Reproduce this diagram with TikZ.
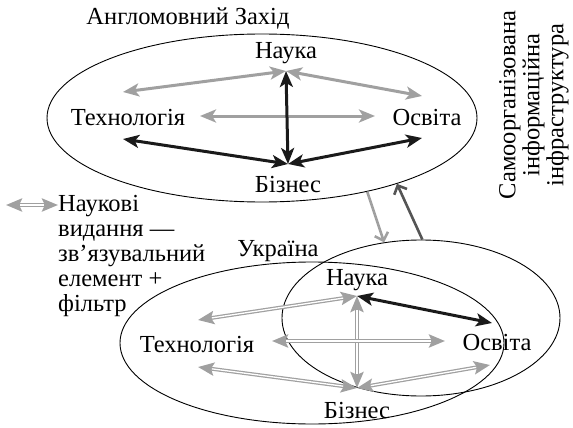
\documentclass[tikz,border=0pt]{standalone}
\usepackage{fontspec}
\setmainfont{Liberation Serif}
\usetikzlibrary{arrows.meta,shapes.geometric,calc}
\definecolor{lg}{HTML}{A0A0A0}
\definecolor{dg}{HTML}{555555}
\definecolor{bk}{HTML}{1A1A1A}
\begin{document}
\begin{tikzpicture}[x=1pt,y=-1pt,
  lbl/.style={font=\fontsize{24.5}{25}\selectfont, inner sep=0pt, anchor=base},
  region/.style={draw, ellipse, line width=0.9pt, inner sep=0pt},
  blk/.style={draw=bk, line width=3pt, {Stealth[length=16pt,width=13pt,inset=4pt]}-{Stealth[length=16pt,width=13pt,inset=4pt]}},
  gry/.style={blk, draw=lg},
  dbl/.style={draw=lg, line width=3.8pt, {Stealth[length=16pt,width=13pt,inset=3pt]}-{Stealth[length=16pt,width=13pt,inset=3pt]},
    postaction={draw=white, line width=1.3pt, arrows=-, shorten <=14pt, shorten >=14pt}},
  link/.style={line width=2.6pt, -{Straight Barb[length=7pt,width=14pt]}},
]
\useasboundingbox (0,0) rectangle (573,428);

% regions
\node[region, minimum width=430pt, minimum height=168pt] (west) at (262,118) {};
\node[region, minimum width=384pt, minimum height=162pt] (ua) at (312,343) {};
\node[region, minimum width=278pt, minimum height=156pt] (uas) at (421,318) {};

% labels
\node[lbl] (title) at (188,25) {Англомовний Захід};
\node[lbl, rotate=90, align=center, anchor=center, font=\fontsize{24.5}{24}\selectfont] (infra) at (534,105) {Самоорганізована\\інформаційна\\інфраструктура};
\node[lbl] (ukr) at (278,256) {Україна};
\node[lbl, anchor=north west, align=left] (leg) at (58,195) {Наукові\\видання —\\зв’язувальний\\елемент +\\фільтр};

% upper nodes
\node[lbl] (nU) at (286,59) {Наука};
\node[lbl] (tU) at (128,125) {Технологія};
\node[lbl] (oU) at (427,125) {Освіта};
\node[lbl] (bU) at (288,192) {Бізнес};

% lower nodes
\node[lbl] (nL) at (357,285) {Наука};
\node[lbl] (tL) at (197,352) {Технологія};
\node[lbl] (oL) at (497,350) {Освіта};
\node[lbl] (bL) at (357,418) {Бізнес};

% ports upper
\coordinate (nUs) at ($(nU.base)+(0,12)$);
\coordinate (bUn) at ($(bU.base)+(0,-28)$);
\coordinate (tUa) at ($(tU.base)+(-5,-33)$);
\coordinate (tUb) at ($(tU.base)+(-5,14)$);
\coordinate (tUe) at ($(tU.base)+(72,-9)$);
\coordinate (oUa) at ($(oU.base)+(-5,-29)$);
\coordinate (oUb) at ($(oU.base)+(-5,13)$);
\coordinate (oUw) at ($(oU.base)+(-52,-9)$);

% ports lower
\coordinate (nLs) at ($(nL.base)+(0,11)$);
\coordinate (bLn) at ($(bL.base)+(0,-30)$);
\coordinate (tLa) at ($(tL.base)+(1,-32)$);
\coordinate (tLe) at ($(tL.base)+(75,-11)$);
\coordinate (tLb) at ($(tL.base)+(1,15)$);
\coordinate (oLw) at ($(oL.base)+(-52,-9)$);
\coordinate (oLb) at ($(oL.base)+(-7,15)$);
\coordinate (oLa) at ($(oL.base)+(-5,-27)$);

% upper arrows
\draw[gry] (tUa) -- (nUs);
\draw[gry] (nUs) -- (oUa);
\draw[gry] (tUe) -- (oUw);
\draw[blk] (nUs) -- (bUn);
\draw[blk] (tUb) -- (bUn);
\draw[blk] (bUn) -- (oUb);

% lower arrows
\draw[dbl] (tLa) -- (nLs);
\draw[dbl] (nLs) -- (bLn);
\draw[dbl] (tLe) -- (oLw);
\draw[dbl] (tLb) -- (bLn);
\draw[dbl] (bLn) -- (oLb);
\draw[blk] (nLs) -- (oLa);

% legend arrow
\coordinate (legL) at (6,205);
\draw[dbl] (legL) -- ($(leg.north west)+(0,10)$);

% links between regions
\draw[link, draw=lg] (west.-35) -- (uas.116);
\draw[link, draw=dg] (uas.89) -- (west.-26);
\end{tikzpicture}
\end{document}
